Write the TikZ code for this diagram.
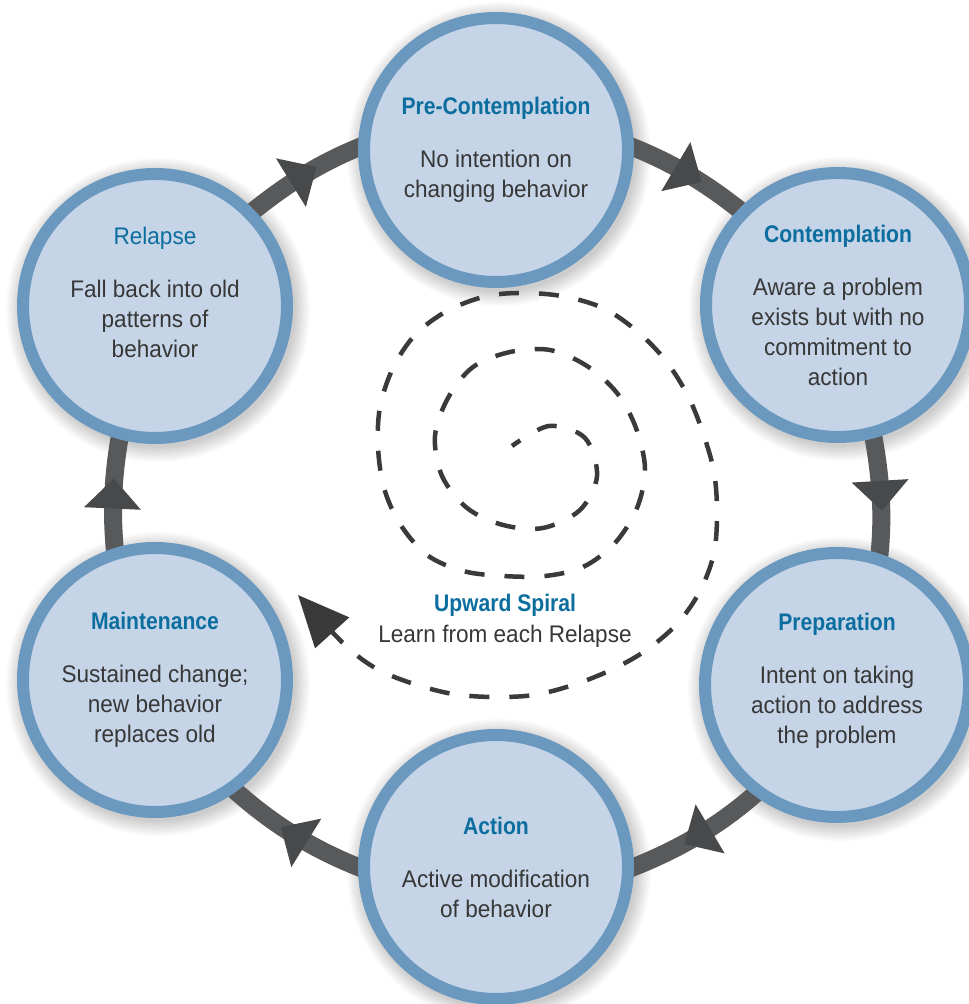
\documentclass[tikz,border=0pt]{standalone}
\usepackage{fontspec}
\setmainfont{Liberation Sans}[UprightFeatures={FakeStretch=0.94},BoldFeatures={FakeStretch=0.88}]
\usetikzlibrary{decorations.markings,arrows.meta}
\definecolor{fillc}{HTML}{C5D4E6}
\definecolor{bordc}{HTML}{6A98BF}
\definecolor{titlec}{HTML}{0C6E9F}
\definecolor{bodyc}{HTML}{373737}
\definecolor{ringc}{HTML}{58595B}
\definecolor{arrowc}{HTML}{48494B}
\definecolor{spiralc}{HTML}{3A3A3A}
\pgfdeclarelayer{paperlayer}
\pgfdeclarelayer{shadowlayer}
\pgfdeclarelayer{ringlayer}
\pgfsetlayers{paperlayer,shadowlayer,ringlayer,main}
\newcommand{\ttl}[1]{{\bfseries\color{titlec}#1}}
\newcommand{\ttlr}[1]{{\color{titlec}#1}}
\begin{document}
\begin{tikzpicture}[x=1pt,y=1pt,
  stage/.style={circle, minimum size=264pt, inner sep=0pt, draw=bordc, line width=12pt,
    fill=fillc, align=center, text=bodyc, font=\fontsize{24}{30}\selectfont},
  ring/.style={draw=ringc, line width=18pt, looseness=0.85, shorten <=-8pt, shorten >=-8pt,
    decoration={markings, mark=at position 0.5 with {\fill[arrowc] (15pt,0pt) -- (-15pt,28.5pt) -- (-15pt,-28.5pt) -- cycle;}},
    postaction={decorate}},
  spiral/.style={draw=spiralc, line width=4.5pt, dash pattern=on 20pt off 20pt, dash phase=10pt,
    -{Triangle[length=51pt,width=45pt]}},
  caption/.style={align=center, text=bodyc, font=\fontsize{24}{31}\selectfont}
]
\begin{pgfonlayer}{paperlayer}
\fill[white] (0,0) rectangle (969,1004);
\end{pgfonlayer}
\useasboundingbox (0,0) rectangle (969,1004);

% stages
\node[stage] (pre)  at (496,854) {\ttl{Pre-Contemplation}\\[23pt]No intention on\\changing behavior};
\node[stage] (con)  at (838,699) {\ttl{Contemplation}\\[23pt]Aware a problem\\exists but with no\\commitment to\\action};
\node[stage, text depth=14pt] (prep) at (837,319) {\ttl{Preparation}\\[23pt]Intent on taking\\action to address\\the problem};
\node[stage] (act)  at (496,137) {\ttl{Action}\\[23pt]Active modification\\of behavior};
\node[stage] (main) at (155,324) {\ttl{Maintenance}\\[23pt]Sustained change;\\new behavior\\replaces old};
\node[stage, text depth=27pt] (rel) at (155,698) {\ttlr{Relapse}\\[23pt]Fall back into old\\patterns of\\behavior};

% soft shadows
\begin{pgfonlayer}{shadowlayer}
\foreach \n in {pre,con,prep,act,main,rel}{
  \foreach \k in {1,...,10}{
    \fill[black,opacity=0.02] ([shift={(3,-4)}]\n.center) circle[radius=136+1.6*\k];
  }
}
\end{pgfonlayer}

% ring
\begin{pgfonlayer}{ringlayer}
\draw[ring] (pre.1) to[out=-21,in=141] (con.136);
\draw[ring] (con.-75) to[out=-79.5,in=83.25] (prep.72.6);
\draw[ring] (prep.-127.5) to[out=-138.1,in=21] (act.0);
\draw[ring] (act.180) to[out=159,in=-42.5] (main.-54.1);
\draw[ring] (main.107.6) to[out=96,in=-100.35] (rel.-105.8);
\draw[ring] (rel.44.6) to[out=39.1,in=-159] (pre.179);
\end{pgfonlayer}

% spiral
\coordinate (spstart) at (512,558);
\coordinate (sptip) at (298,409);
\draw[spiral] plot[smooth, tension=0.55] coordinates {
 (spstart) (549,578) (585,566) (597,528) (580,494) (543,476) (503,479) (467,496)
 (442,528) (435,568) (448,606) (473,637) (510,652) (550,654) (587,638) (617,611)
 (636,576) (645,535) (637,496) (615,461) (583,437) (545,428) (503,428) (463,433)
 (427,449) (400,480) (384,516) (378,557) (380,597) (393,636) (415,669) (447,693)
 (487,708) (527,711) (567,707) (605,695) (638,672) (666,643) (688,608) (703,571)
 (714,532) (717,492) (714,451) (700,413) (677,380) (645,353) (611,334) (573,319)
 (534,309) (493,307) (453,310) (414,320) (377,335) (345,359) (sptip)};

\node[caption] (up) at (505,383) {\ttl{Upward Spiral}\\Learn from each Relapse};
\end{tikzpicture}
\end{document}
